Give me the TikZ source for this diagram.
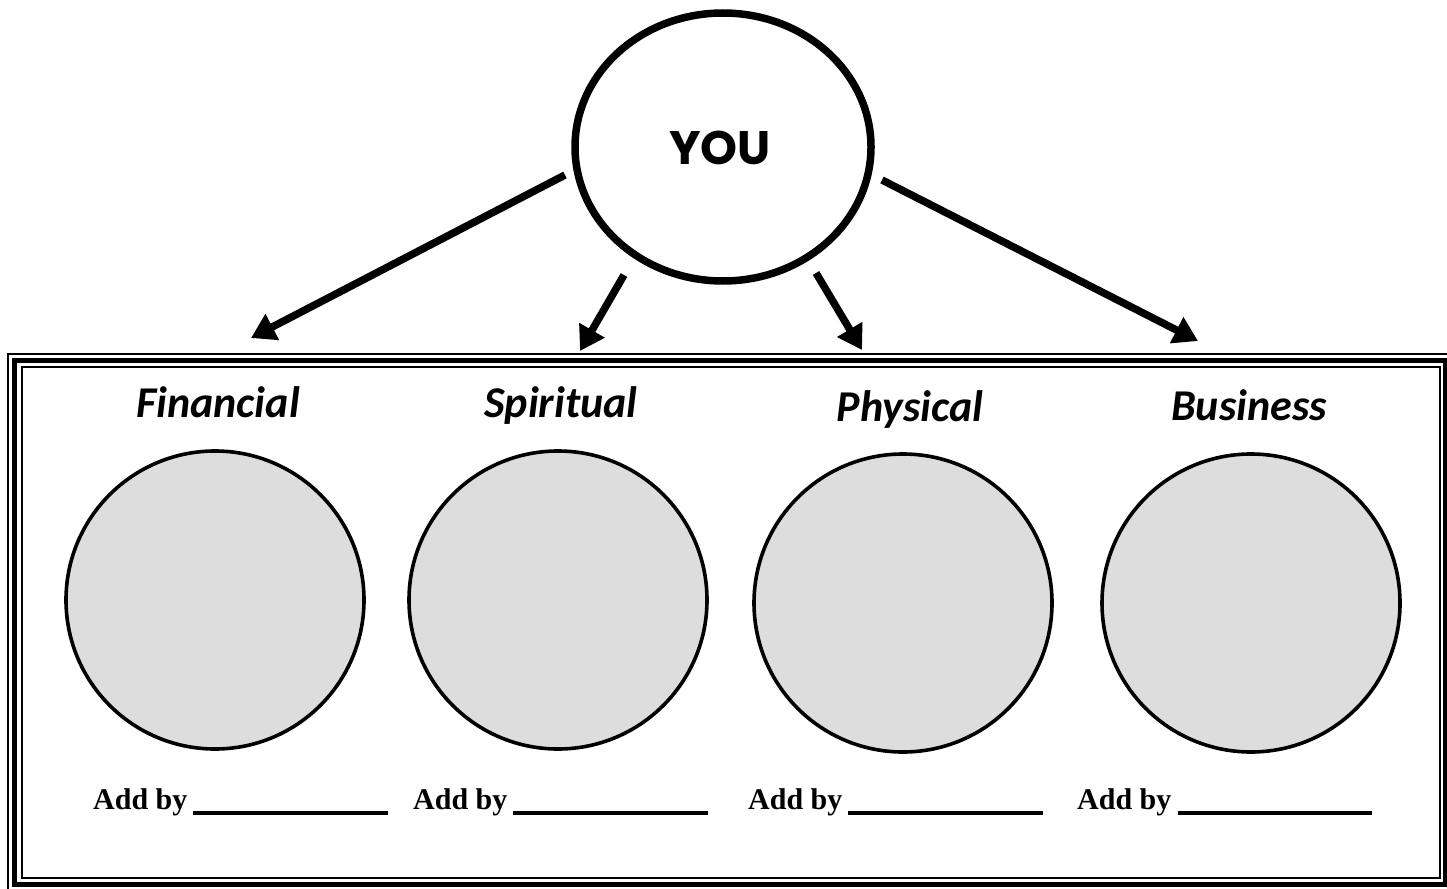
\documentclass[tikz,border=0pt]{standalone}
\usepackage{fontspec}
\setmainfont{Liberation Serif}
\newfontfamily\carl{Carlito}
\newfontfamily\popfont{Poppins}
\usetikzlibrary{arrows.meta,shapes.geometric}
\begin{document}
\begin{tikzpicture}[x=1pt,y=-1pt,
  arr/.style={line width=7.5pt,-{Triangle[length=24pt,width=28pt]}},
  area/.style={circle,draw,line width=3.6pt,fill=gray!27,minimum size=298pt,inner sep=0pt},
  cat/.style={font=\carl\bfseries\itshape\fontsize{44}{52}\selectfont,anchor=base,inner sep=0pt},
  addby/.style={font=\bfseries\fontsize{30}{36}\selectfont,anchor=base west,inner sep=0pt},
  blank/.style={line width=3.4pt}]
\useasboundingbox (0,0) rectangle (1447,888);
\fill[white] (0,0) rectangle (1447,888);
% triple border
\draw[line width=2pt] (8,354) rectangle (1452,891);
\draw[line width=5pt] (14,360) rectangle (1445,884);
\draw[line width=2pt] (22,367) rectangle (1440,878);
% YOU
\node[ellipse,draw,line width=7.5pt,minimum width=296pt,minimum height=268pt,inner sep=0pt] (you) at (723,147) {};
\node[font=\popfont\bfseries\fontsize{47}{54}\selectfont,inner sep=0pt] (youtxt) at (720,148) {YOU};
% arrows
\coordinate (s1) at (565,175);
\coordinate (e1) at (251,338);
\coordinate (s2) at (624,275);
\coordinate (e2) at (580,351);
\coordinate (s3) at (816,273);
\coordinate (e3) at (862,350);
\coordinate (s4) at (882,180);
\coordinate (e4) at (1198,341);
\draw[arr] (s1) -- (e1);
\draw[arr] (s2) -- (e2);
\draw[arr] (s3) -- (e3);
\draw[arr] (s4) -- (e4);
% category labels
\node[cat] (lf) at (218,417) {Financial};
\node[cat] (ls) at (561,417) {Spiritual};
\node[cat] (lp) at (910,421) {Physical};
\node[cat] (lb) at (1249,420) {Business};
% circles
\node[area] (c1) at (215,600) {};
\node[area] (c2) at (558,600) {};
\node[area] (c3) at (903,603) {};
\node[area] (c4) at (1251,603) {};
% Add by
\node[addby] (a1) at (93,809) {Add by};
\node[addby] (a2) at (413,809) {Add by};
\node[addby] (a3) at (748,809) {Add by};
\node[addby] (a4) at (1077,809) {Add by};
\coordinate (l1a) at (193,813); \coordinate (l1b) at (388,813);
\coordinate (l2a) at (513,813); \coordinate (l2b) at (708,813);
\coordinate (l3a) at (848,813); \coordinate (l3b) at (1043,813);
\coordinate (l4a) at (1178,813); \coordinate (l4b) at (1372,813);
\draw[blank] (l1a) -- (l1b);
\draw[blank] (l2a) -- (l2b);
\draw[blank] (l3a) -- (l3b);
\draw[blank] (l4a) -- (l4b);
\end{tikzpicture}
\end{document}
